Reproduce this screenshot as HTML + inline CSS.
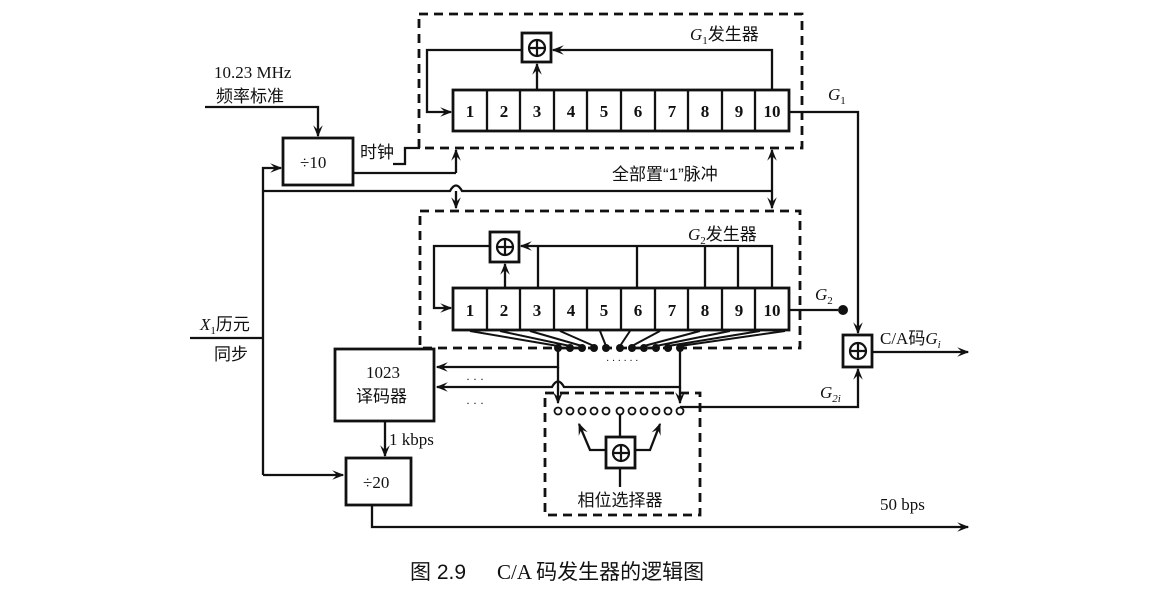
<!DOCTYPE html>
<html><head><meta charset="utf-8"><style>
html,body{margin:0;padding:0;background:#fff}
svg{display:block}
text{font-family:"Liberation Serif","Noto Serif CJK SC",serif;fill:#111}
.cj{font-family:"Liberation Sans","Noto Sans CJK SC",sans-serif}
</style></head><body>
<svg width="1151" height="595" viewBox="0 0 1151 595" xmlns="http://www.w3.org/2000/svg">
<defs>
<marker id="a" viewBox="0 0 10 10" refX="9" refY="5" markerWidth="12" markerHeight="12" orient="auto-start-reverse" markerUnits="userSpaceOnUse"><path d="M0,1 L10,5 L0,9 L4,5 z" fill="#111"/></marker>
</defs>
<g stroke="#111" stroke-width="2.3" fill="none">
<rect x="419" y="14" width="383" height="134" stroke-dasharray="9,6" stroke-width="2.8"/>
<rect x="420" y="211" width="380" height="137" stroke-dasharray="9,6" stroke-width="2.8"/>
<rect x="545" y="393" width="155" height="122" stroke-dasharray="9,6" stroke-width="2.8"/>
<rect x="453" y="90" width="336" height="41" stroke-width="2.8"/>
<path d="M487,90V131M520,90V131M554,90V131M587,90V131M621,90V131M655,90V131M688,90V131M722,90V131M755,90V131"/>
<rect x="522" y="33" width="29" height="29" stroke-width="2.8"/>
<path d="M522,50H427V112H451" marker-end="url(#a)"/>
<path d="M772,90V50H553" marker-end="url(#a)"/>
<path d="M537,90V64" marker-end="url(#a)"/>
<rect x="453" y="288" width="336" height="42" stroke-width="2.8"/>
<path d="M487,288V330M520,288V330M554,288V330M587,288V330M621,288V330M655,288V330M688,288V330M722,288V330M755,288V330"/>
<rect x="490" y="232" width="29" height="30" stroke-width="2.8"/>
<path d="M490,246H434V308H451" marker-end="url(#a)"/>
<path d="M772,288V246H521" marker-end="url(#a)"/>
<path d="M538,288V246M637,288V246M705,288V246M738,288V246"/>
<path d="M505,288V264" marker-end="url(#a)"/>
<rect x="283" y="138" width="70" height="47" stroke-width="2.8"/>
<path d="M205,107H318V136" marker-end="url(#a)"/>
<path d="M393,164H405V148H420"/>
<path d="M353,173H456"/>
<path d="M456,173V150" marker-end="url(#a)"/>
<path d="M263,475V168H281" marker-end="url(#a)"/>
<path d="M263,191H450Q456,180 462,191H772"/>
<path d="M456,191V208" marker-end="url(#a)"/>
<path d="M772,191V150" marker-end="url(#a)"/>
<path d="M772,191V208" marker-end="url(#a)"/>
<path d="M190,338H263"/>
<path d="M263,475H343" marker-end="url(#a)"/>
<rect x="346" y="458" width="65" height="47" stroke-width="2.8"/>
<path d="M372,505V527H968" marker-end="url(#a)"/>
<rect x="335" y="349" width="99" height="72" stroke-width="2.8"/>
<path d="M385,421V456" marker-end="url(#a)"/>
<path d="M558,348V367H437" marker-end="url(#a)"/>
<path d="M680,348V387H564Q558,376 552,387H437" marker-end="url(#a)"/>
<path d="M558,367V403" marker-end="url(#a)"/>
<path d="M680,387V403" marker-end="url(#a)"/>
<path d="M470,331L558,346M500,331L570,346M530,331L582,346M560,331L594,346M600,331L606,346M630,331L620,346M660,331L632,346M700,331L644,346M730,331L656,346M760,331L668,346M785,331L680,346" stroke-width="2"/>
<path d="M789,112H858V333" marker-end="url(#a)"/>
<path d="M789,310H838"/>
<rect x="843" y="335" width="29" height="32" stroke-width="2.8"/>
<path d="M872,352H968" marker-end="url(#a)"/>
<path d="M680,407H858V369" marker-end="url(#a)"/>
<rect x="606" y="437" width="29" height="31" stroke-width="2.8"/>
<path d="M620,437V411M620,468V487"/>
<path d="M606,450H590L579,424" marker-end="url(#a)"/>
<path d="M635,450H650L660,424" marker-end="url(#a)"/>
</g>
<g fill="#111">
<circle cx="843" cy="310" r="5"/>
<circle cx="558" cy="348" r="4"/><circle cx="570" cy="348" r="4"/><circle cx="582" cy="348" r="4"/><circle cx="594" cy="348" r="4"/><circle cx="606" cy="348" r="4"/><circle cx="620" cy="348" r="4"/><circle cx="632" cy="348" r="4"/><circle cx="644" cy="348" r="4"/><circle cx="656" cy="348" r="4"/><circle cx="668" cy="348" r="4"/><circle cx="680" cy="348" r="4"/>
</g>
<g fill="#fff" stroke="#111" stroke-width="1.8">
<circle cx="558" cy="411" r="3.5"/><circle cx="570" cy="411" r="3.5"/><circle cx="582" cy="411" r="3.5"/><circle cx="594" cy="411" r="3.5"/><circle cx="606" cy="411" r="3.5"/><circle cx="620" cy="411" r="3.5"/><circle cx="632" cy="411" r="3.5"/><circle cx="644" cy="411" r="3.5"/><circle cx="656" cy="411" r="3.5"/><circle cx="668" cy="411" r="3.5"/><circle cx="680" cy="411" r="3.5"/>
</g>
<g fill="none" stroke="#111" stroke-width="2.2">
<circle cx="537" cy="48" r="8"/><path d="M529,48H545M537,40V56"/>
<circle cx="505" cy="247" r="8"/><path d="M497,247H513M505,239V255"/>
<circle cx="858" cy="351" r="8"/><path d="M850,351H866M858,343V359"/>
<circle cx="621" cy="453" r="8"/><path d="M613,453H629M621,445V461"/>
</g>
<g font-size="17" text-anchor="middle" font-weight="bold">
<text x="470" y="117">1</text><text x="504" y="117">2</text><text x="537" y="117">3</text><text x="571" y="117">4</text><text x="604" y="117">5</text><text x="638" y="117">6</text><text x="672" y="117">7</text><text x="705" y="117">8</text><text x="739" y="117">9</text><text x="772" y="117">10</text>
<text x="470" y="316">1</text><text x="504" y="316">2</text><text x="537" y="316">3</text><text x="571" y="316">4</text><text x="604" y="316">5</text><text x="638" y="316">6</text><text x="672" y="316">7</text><text x="705" y="316">8</text><text x="739" y="316">9</text><text x="772" y="316">10</text>
</g>
<g font-size="17">
<text x="690" y="40"><tspan font-style="italic">G</tspan><tspan font-size="11" dy="4">1</tspan><tspan class="cj" dy="-4">发生器</tspan></text>
<text x="688" y="240"><tspan font-style="italic">G</tspan><tspan font-size="11" dy="4">2</tspan><tspan class="cj" dy="-4">发生器</tspan></text>
<text x="214" y="78">10.23 MHz</text>
<text x="216" y="102" class="cj">频率标准</text>
<text x="300" y="168">÷10</text>
<text x="360" y="158" class="cj">时钟</text>
<text x="612" y="180" class="cj">全部置“1”脉冲</text>
<text x="828" y="100" font-style="italic">G<tspan font-size="11" dy="4" font-style="normal">1</tspan></text>
<text x="815" y="300" font-style="italic">G<tspan font-size="11" dy="4" font-style="normal">2</tspan></text>
<text x="820" y="398" font-style="italic">G<tspan font-size="11" dy="4">2i</tspan></text>
<text x="880" y="344">C/A<tspan class="cj">码</tspan><tspan font-style="italic">G</tspan><tspan font-size="11" dy="4" font-style="italic">i</tspan></text>
<text x="200" y="330" font-style="italic">X<tspan font-size="11" dy="4" font-style="normal">1</tspan><tspan class="cj" dy="-4" font-style="normal">历元</tspan></text>
<text x="214" y="360" class="cj">同步</text>
<text x="366" y="378">1023</text>
<text x="356" y="402" class="cj">译码器</text>
<text x="389" y="445">1 kbps</text>
<text x="363" y="488">÷20</text>
<text x="880" y="510">50 bps</text>
<text x="620" y="506" class="cj" text-anchor="middle">相位选择器</text>
<text x="466" y="383" font-size="12">· · ·</text>
<text x="466" y="407" font-size="12">· · ·</text>
<text x="606" y="364" font-size="10">· · · · · ·</text>
</g>
<text x="410" y="579" font-size="21" class="cj">图 2.9</text>
<text x="497" y="579" font-size="21">C/A <tspan class="cj">码发生器的逻辑图</tspan></text>
</svg>
</body></html>
